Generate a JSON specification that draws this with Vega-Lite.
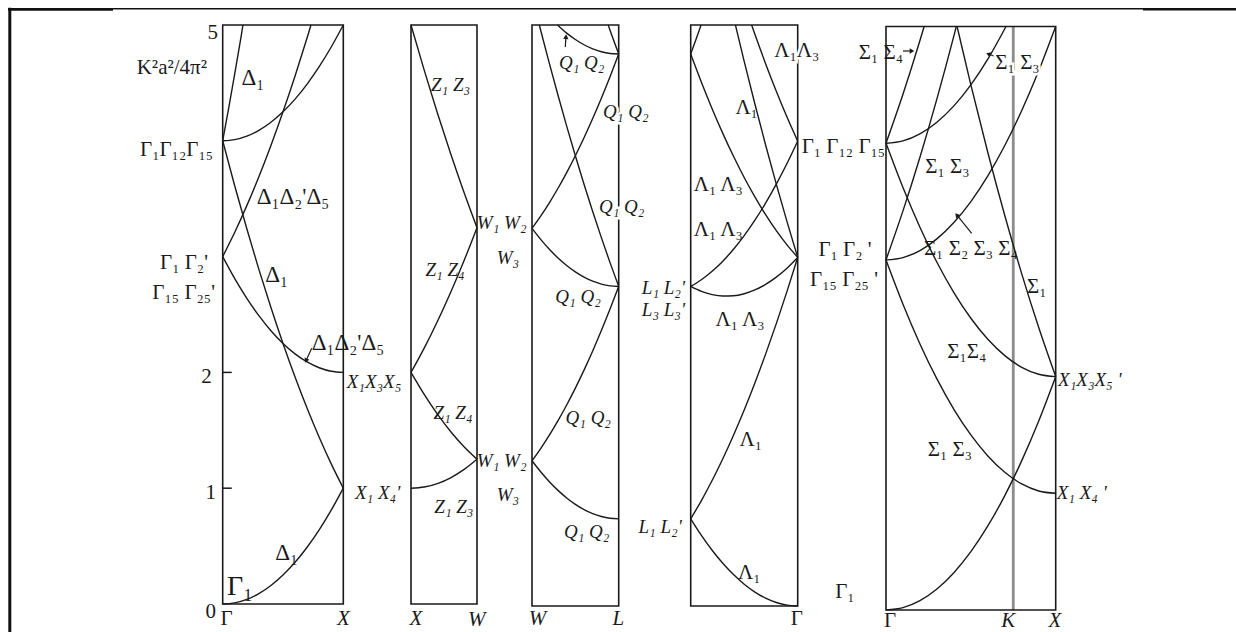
{
"$schema": "https://vega.github.io/schema/vega-lite/v6.json",
"background": "white",
"padding": 0,
"autosize": {"type": "pad"},
"spacing": 0,
"bounds": "flush",
"config": {"view": {"stroke": null}, "text": {"font": "Liberation Serif", "fill": "#1a1a1a", "baseline": "middle"}},
"datasets": {
"c1": [
{"c":"A","x":0,"y":0},{"c":"A","x":0.1,"y":0.01},{"c":"A","x":0.2,"y":0.04},{"c":"A","x":0.3,"y":0.09},{"c":"A","x":0.4,"y":0.16},{"c":"A","x":0.5,"y":0.25},{"c":"A","x":0.6,"y":0.36},{"c":"A","x":0.7,"y":0.49},{"c":"A","x":0.8,"y":0.64},{"c":"A","x":0.9,"y":0.81},{"c":"A","x":1,"y":1},
{"c":"B","x":0,"y":4},{"c":"B","x":0.1,"y":3.61},{"c":"B","x":0.2,"y":3.24},{"c":"B","x":0.3,"y":2.89},{"c":"B","x":0.4,"y":2.56},{"c":"B","x":0.5,"y":2.25},{"c":"B","x":0.6,"y":1.96},{"c":"B","x":0.7,"y":1.69},{"c":"B","x":0.8,"y":1.44},{"c":"B","x":0.9,"y":1.21},{"c":"B","x":1,"y":1},
{"c":"C","x":0,"y":3},{"c":"C","x":0.1,"y":2.81},{"c":"C","x":0.2,"y":2.64},{"c":"C","x":0.3,"y":2.49},{"c":"C","x":0.4,"y":2.36},{"c":"C","x":0.5,"y":2.25},{"c":"C","x":0.6,"y":2.16},{"c":"C","x":0.7,"y":2.09},{"c":"C","x":0.8,"y":2.04},{"c":"C","x":0.9,"y":2.01},{"c":"C","x":1,"y":2},
{"c":"D","x":0,"y":3},{"c":"D","x":0.1,"y":3.21},{"c":"D","x":0.2,"y":3.44},{"c":"D","x":0.3,"y":3.69},{"c":"D","x":0.4,"y":3.96},{"c":"D","x":0.5,"y":4.25},{"c":"D","x":0.6,"y":4.56},{"c":"D","x":0.7,"y":4.89},{"c":"D","x":0.7321,"y":5},
{"c":"E","x":0,"y":4},{"c":"E","x":0.05,"y":4.285},{"c":"E","x":0.1,"y":4.58},{"c":"E","x":0.15,"y":4.884},{"c":"E","x":0.168,"y":5},
{"c":"F","x":0,"y":4},{"c":"F","x":0.1,"y":4.01},{"c":"F","x":0.2,"y":4.04},{"c":"F","x":0.3,"y":4.09},{"c":"F","x":0.4,"y":4.16},{"c":"F","x":0.5,"y":4.25},{"c":"F","x":0.6,"y":4.36},{"c":"F","x":0.7,"y":4.49},{"c":"F","x":0.8,"y":4.64},{"c":"F","x":0.9,"y":4.81},{"c":"F","x":1,"y":5}
],
"c2": [
{"c":"A","x":0,"y":1},{"c":"A","x":0.1,"y":1.01},{"c":"A","x":0.2,"y":1.04},{"c":"A","x":0.3,"y":1.09},{"c":"A","x":0.4,"y":1.16},{"c":"A","x":0.5,"y":1.25},
{"c":"B","x":0,"y":2},{"c":"B","x":0.1,"y":1.81},{"c":"B","x":0.2,"y":1.64},{"c":"B","x":0.3,"y":1.49},{"c":"B","x":0.4,"y":1.36},{"c":"B","x":0.5,"y":1.25},
{"c":"C","x":0,"y":2},{"c":"C","x":0.1,"y":2.21},{"c":"C","x":0.2,"y":2.44},{"c":"C","x":0.3,"y":2.69},{"c":"C","x":0.4,"y":2.96},{"c":"C","x":0.5,"y":3.25},
{"c":"D","x":0,"y":5},{"c":"D","x":0.1,"y":4.61},{"c":"D","x":0.2,"y":4.24},{"c":"D","x":0.3,"y":3.89},{"c":"D","x":0.4,"y":3.56},{"c":"D","x":0.5,"y":3.25}
],
"c3": [
{"c":"a","x":0,"y":1.25},{"c":"a","x":0.1,"y":1.155},{"c":"a","x":0.2,"y":1.07},{"c":"a","x":0.3,"y":0.995},{"c":"a","x":0.4,"y":0.93},{"c":"a","x":0.5,"y":0.875},{"c":"a","x":0.6,"y":0.83},{"c":"a","x":0.7,"y":0.795},{"c":"a","x":0.8,"y":0.77},{"c":"a","x":0.9,"y":0.755},{"c":"a","x":1,"y":0.75},
{"c":"b","x":0,"y":1.25},{"c":"b","x":0.1,"y":1.355},{"c":"b","x":0.2,"y":1.47},{"c":"b","x":0.3,"y":1.595},{"c":"b","x":0.4,"y":1.73},{"c":"b","x":0.5,"y":1.875},{"c":"b","x":0.6,"y":2.03},{"c":"b","x":0.7,"y":2.195},{"c":"b","x":0.8,"y":2.37},{"c":"b","x":0.9,"y":2.555},{"c":"b","x":1,"y":2.75},
{"c":"c","x":0,"y":3.25},{"c":"c","x":0.1,"y":3.155},{"c":"c","x":0.2,"y":3.07},{"c":"c","x":0.3,"y":2.995},{"c":"c","x":0.4,"y":2.93},{"c":"c","x":0.5,"y":2.875},{"c":"c","x":0.6,"y":2.83},{"c":"c","x":0.7,"y":2.795},{"c":"c","x":0.8,"y":2.77},{"c":"c","x":0.9,"y":2.755},{"c":"c","x":1,"y":2.75},
{"c":"d","x":0.0845,"y":5},{"c":"d","x":0.1,"y":4.955},{"c":"d","x":0.2,"y":4.67},{"c":"d","x":0.3,"y":4.395},{"c":"d","x":0.4,"y":4.13},{"c":"d","x":0.5,"y":3.875},{"c":"d","x":0.6,"y":3.63},{"c":"d","x":0.7,"y":3.395},{"c":"d","x":0.8,"y":3.17},{"c":"d","x":0.9,"y":2.955},{"c":"d","x":1,"y":2.75},
{"c":"e","x":0,"y":3.25},{"c":"e","x":0.1,"y":3.355},{"c":"e","x":0.2,"y":3.47},{"c":"e","x":0.3,"y":3.595},{"c":"e","x":0.4,"y":3.73},{"c":"e","x":0.5,"y":3.875},{"c":"e","x":0.6,"y":4.03},{"c":"e","x":0.7,"y":4.195},{"c":"e","x":0.8,"y":4.37},{"c":"e","x":0.9,"y":4.555},{"c":"e","x":1,"y":4.75},
{"c":"f","x":0.2929,"y":5},{"c":"f","x":0.4,"y":4.93},{"c":"f","x":0.5,"y":4.875},{"c":"f","x":0.6,"y":4.83},{"c":"f","x":0.7,"y":4.795},{"c":"f","x":0.8,"y":4.77},{"c":"f","x":0.9,"y":4.755},{"c":"f","x":1,"y":4.75},
{"c":"g","x":0.8787,"y":5},{"c":"g","x":0.9,"y":4.955},{"c":"g","x":0.95,"y":4.851},{"c":"g","x":1,"y":4.75}
],
"c4": [
{"c":"a","x":0,"y":0.75},{"c":"a","x":0.1,"y":0.6075},{"c":"a","x":0.2,"y":0.48},{"c":"a","x":0.3,"y":0.3675},{"c":"a","x":0.4,"y":0.27},{"c":"a","x":0.5,"y":0.1875},{"c":"a","x":0.6,"y":0.12},{"c":"a","x":0.7,"y":0.0675},{"c":"a","x":0.8,"y":0.03},{"c":"a","x":0.9,"y":0.0075},{"c":"a","x":1,"y":0},
{"c":"b","x":0,"y":0.75},{"c":"b","x":0.1,"y":0.9075},{"c":"b","x":0.2,"y":1.08},{"c":"b","x":0.3,"y":1.2675},{"c":"b","x":0.4,"y":1.47},{"c":"b","x":0.5,"y":1.6875},{"c":"b","x":0.6,"y":1.92},{"c":"b","x":0.7,"y":2.1675},{"c":"b","x":0.8,"y":2.43},{"c":"b","x":0.9,"y":2.7075},{"c":"b","x":1,"y":3},
{"c":"c","x":0,"y":2.75},{"c":"c","x":0.1,"y":2.7075},{"c":"c","x":0.2,"y":2.68},{"c":"c","x":0.3,"y":2.6675},{"c":"c","x":0.4,"y":2.67},{"c":"c","x":0.5,"y":2.6875},{"c":"c","x":0.6,"y":2.72},{"c":"c","x":0.7,"y":2.7675},{"c":"c","x":0.8,"y":2.83},{"c":"c","x":0.9,"y":2.9075},{"c":"c","x":1,"y":3},
{"c":"d","x":0,"y":4.75},{"c":"d","x":0.1,"y":4.5075},{"c":"d","x":0.2,"y":4.28},{"c":"d","x":0.3,"y":4.0675},{"c":"d","x":0.4,"y":3.87},{"c":"d","x":0.5,"y":3.6875},{"c":"d","x":0.6,"y":3.52},{"c":"d","x":0.7,"y":3.3675},{"c":"d","x":0.8,"y":3.23},{"c":"d","x":0.9,"y":3.1075},{"c":"d","x":1,"y":3},
{"c":"e","x":0,"y":2.75},{"c":"e","x":0.1,"y":2.8075},{"c":"e","x":0.2,"y":2.88},{"c":"e","x":0.3,"y":2.9675},{"c":"e","x":0.4,"y":3.07},{"c":"e","x":0.5,"y":3.1875},{"c":"e","x":0.6,"y":3.32},{"c":"e","x":0.7,"y":3.4675},{"c":"e","x":0.8,"y":3.63},{"c":"e","x":0.9,"y":3.8075},{"c":"e","x":1,"y":4},
{"c":"f","x":0.5694,"y":5},{"c":"f","x":0.6,"y":4.92},{"c":"f","x":0.7,"y":4.6675},{"c":"f","x":0.8,"y":4.43},{"c":"f","x":0.9,"y":4.2075},{"c":"f","x":1,"y":4},
{"c":"g","x":0.418,"y":5},{"c":"g","x":0.5,"y":4.6875},{"c":"g","x":0.6,"y":4.32},{"c":"g","x":0.7,"y":3.9675},{"c":"g","x":0.8,"y":3.63},{"c":"g","x":0.9,"y":3.3075},{"c":"g","x":1,"y":3},
{"c":"h","x":0,"y":4.75},{"c":"h","x":0.05,"y":4.877},{"c":"h","x":0.0972,"y":5}
],
"c5": [
{"c":"a","x":0,"y":0},{"c":"a","x":0.1,"y":0.02},{"c":"a","x":0.2,"y":0.08},{"c":"a","x":0.3,"y":0.18},{"c":"a","x":0.4,"y":0.32},{"c":"a","x":0.5,"y":0.5},{"c":"a","x":0.6,"y":0.72},{"c":"a","x":0.7,"y":0.98},{"c":"a","x":0.8,"y":1.28},{"c":"a","x":0.9,"y":1.62},{"c":"a","x":1,"y":2},
{"c":"b","x":0,"y":3},{"c":"b","x":0.1,"y":2.62},{"c":"b","x":0.2,"y":2.28},{"c":"b","x":0.3,"y":1.98},{"c":"b","x":0.4,"y":1.72},{"c":"b","x":0.5,"y":1.5},{"c":"b","x":0.6,"y":1.32},{"c":"b","x":0.7,"y":1.18},{"c":"b","x":0.8,"y":1.08},{"c":"b","x":0.9,"y":1.02},{"c":"b","x":1,"y":1},
{"c":"c","x":0,"y":3},{"c":"c","x":0.1,"y":3.02},{"c":"c","x":0.2,"y":3.08},{"c":"c","x":0.3,"y":3.18},{"c":"c","x":0.4,"y":3.32},{"c":"c","x":0.5,"y":3.5},{"c":"c","x":0.6,"y":3.72},{"c":"c","x":0.7,"y":3.98},{"c":"c","x":0.8,"y":4.28},{"c":"c","x":0.9,"y":4.62},{"c":"c","x":1,"y":5},
{"c":"d","x":0,"y":3},{"c":"d","x":0.1,"y":3.42},{"c":"d","x":0.2,"y":3.88},{"c":"d","x":0.3,"y":4.38},{"c":"d","x":0.4,"y":4.92},{"c":"d","x":0.4142,"y":5},
{"c":"e","x":0,"y":4},{"c":"e","x":0.1,"y":3.62},{"c":"e","x":0.2,"y":3.28},{"c":"e","x":0.3,"y":2.98},{"c":"e","x":0.4,"y":2.72},{"c":"e","x":0.5,"y":2.5},{"c":"e","x":0.6,"y":2.32},{"c":"e","x":0.7,"y":2.18},{"c":"e","x":0.8,"y":2.08},{"c":"e","x":0.9,"y":2.02},{"c":"e","x":1,"y":2},
{"c":"f","x":0,"y":4},{"c":"f","x":0.1,"y":4.42},{"c":"f","x":0.2,"y":4.88},{"c":"f","x":0.2247,"y":5},
{"c":"g","x":0,"y":4},{"c":"g","x":0.1,"y":4.02},{"c":"g","x":0.2,"y":4.08},{"c":"g","x":0.3,"y":4.18},{"c":"g","x":0.4,"y":4.32},{"c":"g","x":0.5,"y":4.5},{"c":"g","x":0.6,"y":4.72},{"c":"g","x":0.7071,"y":5},
{"c":"h","x":0.4189,"y":5},{"c":"h","x":0.5,"y":4.5},{"c":"h","x":0.6,"y":3.92},{"c":"h","x":0.7,"y":3.38},{"c":"h","x":0.8,"y":2.88},{"c":"h","x":0.9,"y":2.42},{"c":"h","x":1,"y":2}
],
"box1": [{"x":0,"x2":1,"y":0,"y2":5}],
"box2": [{"x":0,"x2":0.5,"y":0,"y2":5}],
"box": [{"x":0,"x2":1,"y":0,"y2":5}],
"thin1": [{"x":-1.7803,"x2":1.5614,"y":5.1408}],
"thick1": [{"x":-1.7803,"x2":-0.9096,"y":5.135}],
"left1": [{"x":-1.7653,"y":-0.2418,"y2":5.15}],
"thin2": [{"x":0,"x2":0.9167,"y":5.1408}],
"thin3": [{"x":0,"x2":1.8339,"y":5.1403}],
"thin4": [{"x":0.0028,"x2":1.8252,"y":5.1403}],
"thin5": [{"x":0,"x2":1.5144,"y":5.1525}],
"thick5": [{"x":1.5144,"x2":2.0625,"y":5.148}],
"ticks1": [{"x":0,"x2":0.075,"y":1},{"x":0,"x2":0.075,"y":2}],
"kline": [{"x":0.75,"y":0,"y2":5}],
"a1": [{"x":0.738,"y":2.208,"x2":0.691,"y2":2.101}],
"h1": [{"x":0.691,"y":2.101}],
"a3": [{"x":0.384,"y":4.81,"x2":0.392,"y2":4.9}],
"h3": [{"x":0.392,"y":4.9}],
"a5": [{"x":0.1,"y":4.79,"x2":0.153,"y2":4.79},{"x":0.648,"y":4.741,"x2":0.603,"y2":4.764},{"x":0.505,"y":3.228,"x2":0.417,"y2":3.385}],
"h5a": [{"x":0.153,"y":4.79}],
"h5b": [{"x":0.603,"y":4.764}],
"h5c": [{"x":0.417,"y":3.385}],
"t1num": [{"x":-0.039,"y":4.931,"t":"5"},{"x":-0.091,"y":1.963,"t":"2"},{"x":-0.056,"y":0.961,"t":"1"},{"x":-0.056,"y":-0.066,"t":"0"}],
"t1r": [{"x":-0.13,"y":4.626,"t":"K²a²/4π²"},{"x":-0.08,"y":3.921,"t":"Γ₁Γ₁₂Γ₁₅"},{"x":-0.122,"y":2.945,"t":"Γ₁ Γ₂'"},{"x":-0.064,"y":2.686,"t":"Γ₁₅ Γ₂₅'"}],
"t1dl": [{"x":0.282,"y":3.517,"t":"Δ₁Δ₂'Δ₅"},{"x":0.738,"y":2.251,"t":"Δ₁Δ₂'Δ₅"}],
"t1dc": [{"x":0.251,"y":4.542,"t":"Δ₁"},{"x":0.448,"y":2.841,"t":"Δ₁"},{"x":0.531,"y":0.438,"t":"Δ₁"}],
"t1big": [{"x":0.143,"y":0.149,"t":"Γ₁"}],
"t1bot": [{"x":0.033,"y":-0.13,"t":"Γ"}],
"t1boti": [{"x":1.0,"y":-0.13,"t":"X"}],
"t1il": [{"x":1.028,"y":1.92,"t":"X₁X₃X₅"},{"x":1.097,"y":0.956,"t":"X₁ X₄'"}],
"t2i": [{"x":0.3,"y":4.48,"t":"Z₁ Z₃"},{"x":0.258,"y":2.888,"t":"Z₁ Z₄"},{"x":0.318,"y":1.653,"t":"Z₁ Z₄"},{"x":0.325,"y":0.84,"t":"Z₁ Z₃"},{"x":0.687,"y":3.29,"t":"W₁ W₂"},{"x":0.735,"y":2.992,"t":"W₃"},{"x":0.687,"y":1.235,"t":"W₁ W₂"},{"x":0.735,"y":0.941,"t":"W₃"}],
"t2boti": [{"x":0.038,"y":-0.13,"t":"X"},{"x":0.498,"y":-0.14,"t":"W"}],
"t3i": [{"x":0.573,"y":4.67,"t":"Q₁ Q₂"},{"x":0.531,"y":2.662,"t":"Q₁ Q₂"},{"x":0.649,"y":1.615,"t":"Q₁ Q₂"},{"x":0.631,"y":0.639,"t":"Q₁ Q₂"}],
"t3e": [{"x":1.082,"y":4.254,"t":"Q₁ Q₂"},{"x":1.035,"y":3.436,"t":"Q₁ Q₂"}],
"t3boti": [{"x":0.063,"y":-0.11,"t":"W"},{"x":0.995,"y":-0.115,"t":"L"}],
"t4c": [{"x":0.523,"y":4.283,"t":"Λ₁"},{"x":0.258,"y":3.623,"t":"Λ₁ Λ₃"},{"x":0.258,"y":3.236,"t":"Λ₁ Λ₃"},{"x":0.461,"y":2.461,"t":"Λ₁ Λ₃"},{"x":0.561,"y":1.429,"t":"Λ₁"},{"x":0.548,"y":0.281,"t":"Λ₁"},{"x":1.442,"y":3.064,"t":"Γ₁ Γ₂ '"},{"x":1.433,"y":2.806,"t":"Γ₁₅ Γ₂₅ '"}],
"t4e": [{"x":0.991,"y":4.776,"t":"Λ₁Λ₃"}],
"t4l": [{"x":1.037,"y":3.95,"t":"Γ₁ Γ₁₂ Γ₁₅"}],
"t4bot": [{"x":0.991,"y":-0.11,"t":"Γ"}],
"t4ir": [{"x":-0.053,"y":2.734,"t":"L₁ L₂'"},{"x":-0.053,"y":2.547,"t":"L₃ L₃'"},{"x":-0.084,"y":0.682,"t":"L₁ L₂'"}],
"t5c": [{"x":-0.03,"y":4.777,"t":"Σ₁ Σ₄"},{"x":0.362,"y":3.792,"t":"Σ₁ Σ₃"},{"x":0.5,"y":3.092,"t":"Σ₁ Σ₂ Σ₃ Σ₄"},{"x":0.888,"y":2.77,"t":"Σ₁"},{"x":0.476,"y":2.213,"t":"Σ₁Σ₄"},{"x":0.377,"y":1.371,"t":"Σ₁ Σ₃"},{"x":-0.242,"y":0.154,"t":"Γ₁"}],
"t5e": [{"x":0.775,"y":4.685,"t":"Σ₁ Σ₃"}],
"t5bot": [{"x":0.024,"y":-0.09,"t":"Γ"}],
"t5boti": [{"x":0.721,"y":-0.09,"t":"K"},{"x":0.996,"y":-0.095,"t":"X"}],
"t5il": [{"x":1.014,"y":1.971,"t":"X₁X₃X₅ '"},{"x":1.006,"y":1.0,"t":"X₁ X₄ '"}]
},
"hconcat": [
{
"width": 411, "height": 632,
"encoding": {
"x": {"field":"x","type":"quantitative","axis":null,"scale":{"domain":[-1.8466,1.5614],"nice":false,"zero":false}},
"y": {"field":"y","type":"quantitative","axis":null,"scale":{"domain":[-0.2418,5.2159],"nice":false,"zero":false}}
},
"layer": [
{"data":{"name":"thin1"},"mark":{"type":"rule","stroke":"#111","strokeWidth":1.5},"encoding":{"x2":{"field":"x2"}}},
{"data":{"name":"thick1"},"mark":{"type":"rule","stroke":"#111","strokeWidth":2.6},"encoding":{"x2":{"field":"x2"}}},
{"data":{"name":"left1"},"mark":{"type":"rule","stroke":"#111","strokeWidth":3},"encoding":{"y2":{"field":"y2"}}},
{"data":{"name":"box1"},"mark":{"type":"rect","fillOpacity":0,"stroke":"#1a1a1a","strokeWidth":1.6},"encoding":{"x2":{"field":"x2"},"y2":{"field":"y2"}}},
{"data":{"name":"ticks1"},"mark":{"type":"rule","stroke":"#1a1a1a","strokeWidth":1.5},"encoding":{"x2":{"field":"x2"}}},
{"data":{"name":"c1"},"mark":{"type":"line","stroke":"#1a1a1a","strokeWidth":1.4,"interpolate":"monotone"},"encoding":{"detail":{"field":"c","type":"nominal"}}},
{"data":{"name":"a1"},"mark":{"type":"rule","stroke":"#1a1a1a","strokeWidth":1.2},"encoding":{"x2":{"field":"x2"},"y2":{"field":"y2"}}},
{"data":{"name":"h1"},"mark":{"type":"point","shape":"triangle-up","filled":true,"color":"#1a1a1a","size":28,"angle":205,"opacity":1}},
{"data":{"name":"t1num"},"mark":{"type":"text","align":"right","fontSize":21},"encoding":{"text":{"field":"t","type":"nominal"}}},
{"data":{"name":"t1r"},"mark":{"type":"text","align":"right","fontSize":21},"encoding":{"text":{"field":"t","type":"nominal"}}},
{"data":{"name":"t1dl"},"mark":{"type":"text","align":"left","fontSize":23},"encoding":{"text":{"field":"t","type":"nominal"}}},
{"data":{"name":"t1dc"},"mark":{"type":"text","align":"center","fontSize":23},"encoding":{"text":{"field":"t","type":"nominal"}}},
{"data":{"name":"t1big"},"mark":{"type":"text","align":"center","fontSize":28},"encoding":{"text":{"field":"t","type":"nominal"}}},
{"data":{"name":"t1bot"},"mark":{"type":"text","align":"center","fontSize":21},"encoding":{"text":{"field":"t","type":"nominal"}}},
{"data":{"name":"t1boti"},"mark":{"type":"text","align":"center","fontSize":21,"fontStyle":"italic"},"encoding":{"text":{"field":"t","type":"nominal"}}},
{"data":{"name":"t1il"},"mark":{"type":"text","align":"left","fontSize":19,"fontStyle":"italic"},"encoding":{"text":{"field":"t","type":"nominal"}}}
]
},
{
"width": 121, "height": 632,
"encoding": {
"x": {"field":"x","type":"quantitative","axis":null,"scale":{"domain":[0,0.9167],"nice":false,"zero":false}},
"y": {"field":"y","type":"quantitative","axis":null,"scale":{"domain":[-0.2418,5.2159],"nice":false,"zero":false}}
},
"layer": [
{"data":{"name":"thin2"},"mark":{"type":"rule","stroke":"#111","strokeWidth":1.5},"encoding":{"x2":{"field":"x2"}}},
{"data":{"name":"box2"},"mark":{"type":"rect","fillOpacity":0,"stroke":"#1a1a1a","strokeWidth":1.6},"encoding":{"x2":{"field":"x2"},"y2":{"field":"y2"}}},
{"data":{"name":"c2"},"mark":{"type":"line","stroke":"#1a1a1a","strokeWidth":1.4,"interpolate":"monotone"},"encoding":{"detail":{"field":"c","type":"nominal"}}},
{"data":{"name":"t2i"},"mark":{"type":"text","align":"center","fontSize":19,"fontStyle":"italic"},"encoding":{"text":{"field":"t","type":"nominal"}}},
{"data":{"name":"t2boti"},"mark":{"type":"text","align":"center","fontSize":21,"fontStyle":"italic"},"encoding":{"text":{"field":"t","type":"nominal"}}}
]
},
{
"width": 159, "height": 632,
"encoding": {
"x": {"field":"x","type":"quantitative","axis":null,"scale":{"domain":[0,1.8339],"nice":false,"zero":false}},
"y": {"field":"y","type":"quantitative","axis":null,"scale":{"domain":[-0.2238,5.2151],"nice":false,"zero":false}}
},
"layer": [
{"data":{"name":"thin3"},"mark":{"type":"rule","stroke":"#111","strokeWidth":1.5},"encoding":{"x2":{"field":"x2"}}},
{"data":{"name":"box"},"mark":{"type":"rect","fillOpacity":0,"stroke":"#1a1a1a","strokeWidth":1.6},"encoding":{"x2":{"field":"x2"},"y2":{"field":"y2"}}},
{"data":{"name":"c3"},"mark":{"type":"line","stroke":"#1a1a1a","strokeWidth":1.4,"interpolate":"monotone"},"encoding":{"detail":{"field":"c","type":"nominal"}}},
{"data":{"name":"a3"},"mark":{"type":"rule","stroke":"#1a1a1a","strokeWidth":1.2},"encoding":{"x2":{"field":"x2"},"y2":{"field":"y2"}}},
{"data":{"name":"h3"},"mark":{"type":"point","shape":"triangle-up","filled":true,"color":"#1a1a1a","size":28,"angle":5,"opacity":1}},
{"data":{"name":"t3e"},"mark":{"type":"text","align":"center","fontSize":19,"fontStyle":"italic","stroke":"white","strokeWidth":5,"fill":"white"},"encoding":{"text":{"field":"t","type":"nominal"}}},
{"data":{"name":"t3e"},"mark":{"type":"text","align":"center","fontSize":19,"fontStyle":"italic"},"encoding":{"text":{"field":"t","type":"nominal"}}},
{"data":{"name":"t3i"},"mark":{"type":"text","align":"center","fontSize":19,"fontStyle":"italic"},"encoding":{"text":{"field":"t","type":"nominal"}}},
{"data":{"name":"t3boti"},"mark":{"type":"text","align":"center","fontSize":21,"fontStyle":"italic"},"encoding":{"text":{"field":"t","type":"nominal"}}}
]
},
{
"width": 195, "height": 632,
"encoding": {
"x": {"field":"x","type":"quantitative","axis":null,"scale":{"domain":[0.0028,1.8252],"nice":false,"zero":false}},
"y": {"field":"y","type":"quantitative","axis":null,"scale":{"domain":[-0.2238,5.2151],"nice":false,"zero":false}}
},
"layer": [
{"data":{"name":"thin4"},"mark":{"type":"rule","stroke":"#111","strokeWidth":1.5},"encoding":{"x2":{"field":"x2"}}},
{"data":{"name":"box"},"mark":{"type":"rect","fillOpacity":0,"stroke":"#1a1a1a","strokeWidth":1.6},"encoding":{"x2":{"field":"x2"},"y2":{"field":"y2"}}},
{"data":{"name":"c4"},"mark":{"type":"line","stroke":"#1a1a1a","strokeWidth":1.4,"interpolate":"monotone"},"encoding":{"detail":{"field":"c","type":"nominal"}}},
{"data":{"name":"t4e"},"mark":{"type":"text","align":"center","fontSize":21,"stroke":"white","strokeWidth":5,"fill":"white"},"encoding":{"text":{"field":"t","type":"nominal"}}},
{"data":{"name":"t4e"},"mark":{"type":"text","align":"center","fontSize":21},"encoding":{"text":{"field":"t","type":"nominal"}}},
{"data":{"name":"t4c"},"mark":{"type":"text","align":"center","fontSize":21},"encoding":{"text":{"field":"t","type":"nominal"}}},
{"data":{"name":"t4l"},"mark":{"type":"text","align":"left","fontSize":21},"encoding":{"text":{"field":"t","type":"nominal"}}},
{"data":{"name":"t4bot"},"mark":{"type":"text","align":"center","fontSize":21},"encoding":{"text":{"field":"t","type":"nominal"}}},
{"data":{"name":"t4ir"},"mark":{"type":"text","align":"right","fontSize":19,"fontStyle":"italic"},"encoding":{"text":{"field":"t","type":"nominal"}}}
]
},
{
"width": 350, "height": 632,
"encoding": {
"x": {"field":"x","type":"quantitative","axis":null,"scale":{"domain":[0,2.0625],"nice":false,"zero":false}},
"y": {"field":"y","type":"quantitative","axis":null,"scale":{"domain":[-0.1885,5.2271],"nice":false,"zero":false}}
},
"layer": [
{"data":{"name":"thin5"},"mark":{"type":"rule","stroke":"#111","strokeWidth":1.5},"encoding":{"x2":{"field":"x2"}}},
{"data":{"name":"thick5"},"mark":{"type":"rule","stroke":"#111","strokeWidth":2.6},"encoding":{"x2":{"field":"x2"}}},
{"data":{"name":"kline"},"mark":{"type":"rule","stroke":"#8c8c8c","strokeWidth":2.8},"encoding":{"y2":{"field":"y2"}}},
{"data":{"name":"box"},"mark":{"type":"rect","fillOpacity":0,"stroke":"#1a1a1a","strokeWidth":1.6},"encoding":{"x2":{"field":"x2"},"y2":{"field":"y2"}}},
{"data":{"name":"c5"},"mark":{"type":"line","stroke":"#1a1a1a","strokeWidth":1.4,"interpolate":"monotone"},"encoding":{"detail":{"field":"c","type":"nominal"}}},
{"data":{"name":"a5"},"mark":{"type":"rule","stroke":"#1a1a1a","strokeWidth":1.2},"encoding":{"x2":{"field":"x2"},"y2":{"field":"y2"}}},
{"data":{"name":"h5a"},"mark":{"type":"point","shape":"triangle-up","filled":true,"color":"#1a1a1a","size":28,"angle":90,"opacity":1}},
{"data":{"name":"h5b"},"mark":{"type":"point","shape":"triangle-up","filled":true,"color":"#1a1a1a","size":28,"angle":289,"opacity":1}},
{"data":{"name":"h5c"},"mark":{"type":"point","shape":"triangle-up","filled":true,"color":"#1a1a1a","size":28,"angle":321,"opacity":1}},
{"data":{"name":"t5e"},"mark":{"type":"text","align":"center","fontSize":21,"stroke":"white","strokeWidth":5,"fill":"white"},"encoding":{"text":{"field":"t","type":"nominal"}}},
{"data":{"name":"t5e"},"mark":{"type":"text","align":"center","fontSize":21},"encoding":{"text":{"field":"t","type":"nominal"}}},
{"data":{"name":"t5c"},"mark":{"type":"text","align":"center","fontSize":21},"encoding":{"text":{"field":"t","type":"nominal"}}},
{"data":{"name":"t5bot"},"mark":{"type":"text","align":"center","fontSize":21},"encoding":{"text":{"field":"t","type":"nominal"}}},
{"data":{"name":"t5boti"},"mark":{"type":"text","align":"center","fontSize":21,"fontStyle":"italic"},"encoding":{"text":{"field":"t","type":"nominal"}}},
{"data":{"name":"t5il"},"mark":{"type":"text","align":"left","fontSize":19,"fontStyle":"italic"},"encoding":{"text":{"field":"t","type":"nominal"}}}
]
}
]
}
